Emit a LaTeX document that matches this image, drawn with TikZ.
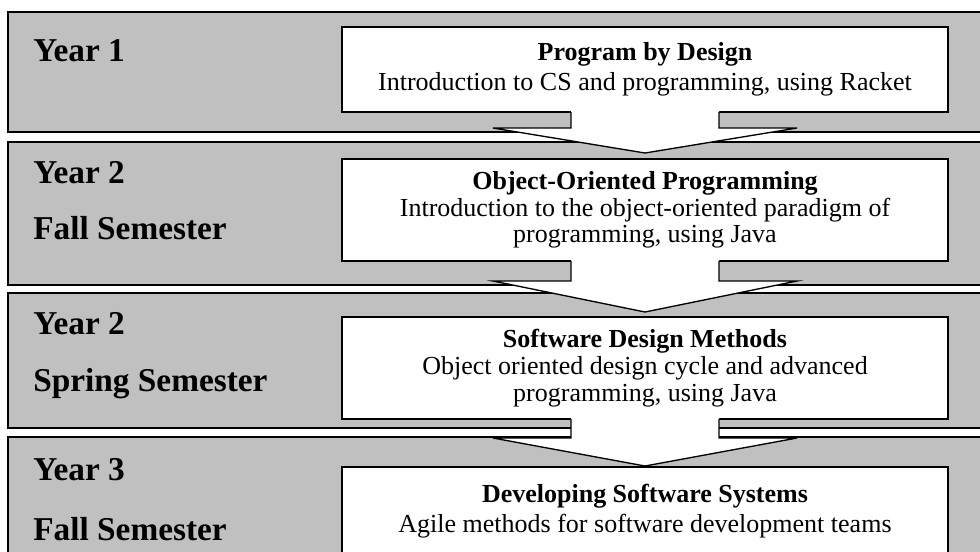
\documentclass[tikz,border=0pt]{standalone}
\usepackage{fontspec}
\setmainfont{Liberation Serif}
\usetikzlibrary{calc}

\definecolor{bandgray}{RGB}{192,192,192}

\tikzset{
  band/.style={draw=black, fill=bandgray, line width=1pt},
  course/.style={draw=black, fill=white, line width=1pt, minimum width=454.5pt,
    align=center, inner sep=0pt, outer sep=0pt, font=\fontsize{19.5}{22.5}\selectfont},
  tight/.style={font=\fontsize{19.5}{20}\selectfont},
  yearlabel/.style={anchor=base west, inner sep=0pt, font=\fontsize{25}{30}\selectfont\bfseries},
  flow/.style={draw=black, line width=1pt, line join=miter},
}

% block arrow from one course box down to the next: from, to, shoulder drop, tip gap
\newcommand{\stagearrow}[4]{%
  \fill[white] ($(#1.south)+(-74,-1)$) -- ($(#1.south)+(-74,#3)$) -- ($(#1.south)+(-152,#3)$)
    -- ($(#2.north)+(0,-#4)$) -- ($(#1.south)+(152,#3)$) -- ($(#1.south)+(74,#3)$)
    -- ($(#1.south)+(74,-1)$) -- cycle;
  \draw[flow] ($(#1.south)+(-74,0)$) -- ($(#1.south)+(-74,#3)$) -- ($(#1.south)+(-152,#3)$)
    -- ($(#2.north)+(0,-#4)$) -- ($(#1.south)+(152,#3)$) -- ($(#1.south)+(74,#3)$)
    -- ($(#1.south)+(74,0)$);%
}

\begin{document}
\begin{tikzpicture}[x=0.75pt,y=-0.75pt]
  \useasboundingbox (0,0) rectangle (980,551);
  \clip (0,0) rectangle (980,551);

  % gray bands, one per term
  \draw[band] (8,12) rectangle (1000,132);
  \draw[band] (8,142) rectangle (1000,285);
  \draw[band] (8,293) rectangle (1000,428);
  \draw[band] (8,437) rectangle (1000,600);

  % course boxes
  \node[course, minimum height=63.75pt] (pbd) at (645,69.5)
    {\textbf{Program by Design}\\Introduction to CS and programming, using Racket};
  \node[course, tight, minimum height=76.5pt] (oop) at (645,210)
    {\textbf{Object-Oriented Programming}\\Introduction to the object-oriented paradigm of\\programming, using Java};
  \node[course, tight, minimum height=76.5pt] (sdm) at (645,368)
    {\textbf{Software Design Methods}\\Object oriented design cycle and advanced\\programming, using Java};
  \node[course, minimum height=66pt, anchor=north] (dss) at (645,467)
    {\textbf{Developing Software Systems}\\Agile methods for software development teams};

  % arrows between the courses
  \stagearrow{pbd}{oop}{16}{6}
  \stagearrow{oop}{sdm}{20}{5}
  \stagearrow{sdm}{dss}{19}{1}

  % year and term labels
  \node[yearlabel] (y1) at (33,61) {Year 1};
  \node[yearlabel] (y2) at (33,183) {Year 2};
  \node[yearlabel] (f2) at (33,239) {Fall Semester};
  \node[yearlabel] (y2s) at (33,334) {Year 2};
  \node[yearlabel] (s2) at (33,391) {Spring Semester};
  \node[yearlabel] (y3) at (33,480) {Year 3};
  \node[yearlabel] (f3) at (33,540) {Fall Semester};
\end{tikzpicture}
\end{document}
